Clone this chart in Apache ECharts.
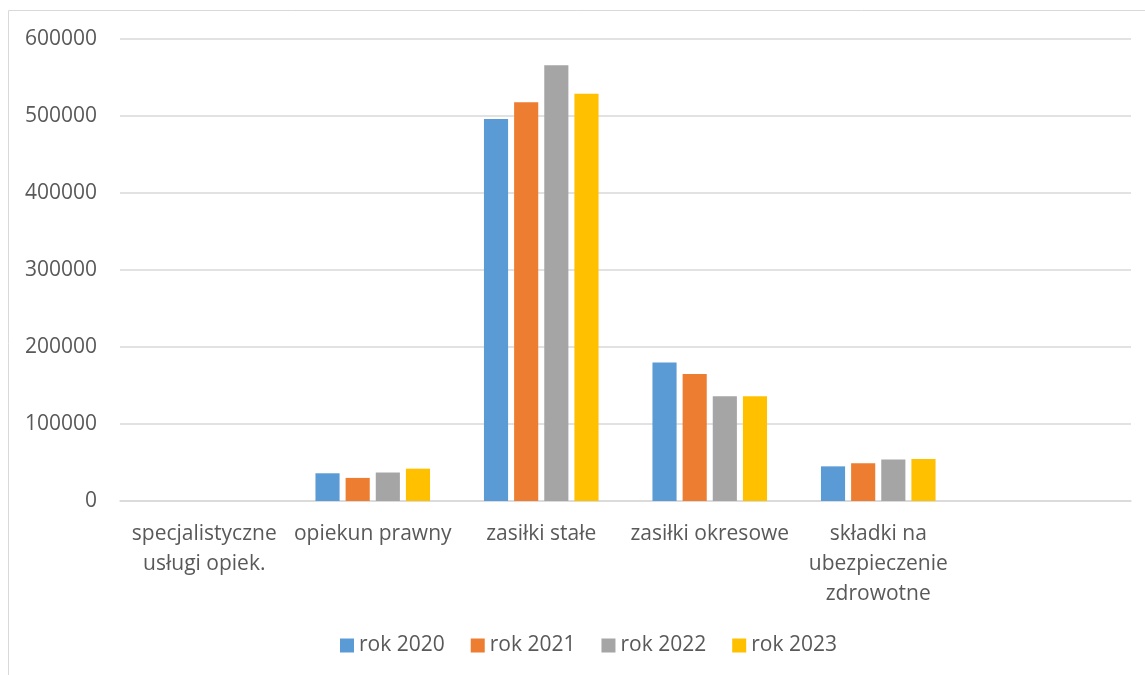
<!DOCTYPE html>
<html><head><meta charset="utf-8">
<script src="https://cdn.jsdelivr.net/npm/echarts@6/dist/echarts.min.js"></script>
<style>html,body{margin:0;padding:0;background:#fff}#c{width:1145px;height:675px}</style>
</head><body><div id="c"></div>
<script>
const categories = ["specjalistyczne\nusługi opiek.", "opiekun prawny", "zasiłki stałe", "zasiłki okresowe", "składki na\nubezpieczenie\nzdrowotne", ""];
const seriesNames = ["rok 2020", "rok 2021", "rok 2022", "rok 2023"];
const rok2020 = [0, 36000, 496000, 180000, 45000, null];
const rok2021 = [0, 30000, 518000, 165000, 49000, null];
const rok2022 = [0, 37000, 566000, 136000, 54000, null];
const rok2023 = [0, 42000, 529000, 136000, 54500, null];
const yTicks = [0, 100000, 200000, 300000, 400000, 500000, 600000];
const colors = ["#5B9BD5", "#ED7D31", "#A5A5A5", "#FFC000"];
const values = [rok2020, rok2021, rok2022, rok2023];
const font = "'Open Sans', sans-serif";
const chart = echarts.init(document.getElementById('c'), null, {renderer: 'canvas'});
chart.setOption({
  animation: false,
  color: colors,
  graphic: [{type: 'rect', shape: {x: 8.5, y: 10.5, width: 1160, height: 700}, style: {fill: 'none', stroke: '#d9d9d9', lineWidth: 1}, z: -1}],
  grid: {left: 120, right: 14, top: 39, bottom: 174},
  legend: {
    bottom: 14, left: 335, itemWidth: 14, itemHeight: 14, itemGap: 26,
    icon: 'rect',
    textStyle: {fontFamily: font, fontSize: 21, color: '#595959'},
    data: seriesNames
  },
  xAxis: {
    type: 'category', data: categories,
    axisLine: {lineStyle: {color: '#d9d9d9', width: 1.5}},
    axisTick: {show: false},
    axisLabel: {fontFamily: font, fontSize: 21, color: '#595959', interval: 0, margin: 18, lineHeight: 30}
  },
  yAxis: {
    type: 'value', min: 0, max: 600000, interval: 100000,
    axisLine: {show: false}, axisTick: {show: false},
    splitLine: {lineStyle: {color: '#d9d9d9', width: 1.5}},
    axisLabel: {fontFamily: font, fontSize: 21, color: '#595959', margin: 23,
      formatter: v => yTicks.includes(v) ? String(v) : ''}
  },
  series: seriesNames.map((n, i) => ({
    name: n, type: 'bar', data: values[i],
    barGap: '25%', barCategoryGap: '32%',
    itemStyle: {color: colors[i]}
  }))
});
</script></body></html>
